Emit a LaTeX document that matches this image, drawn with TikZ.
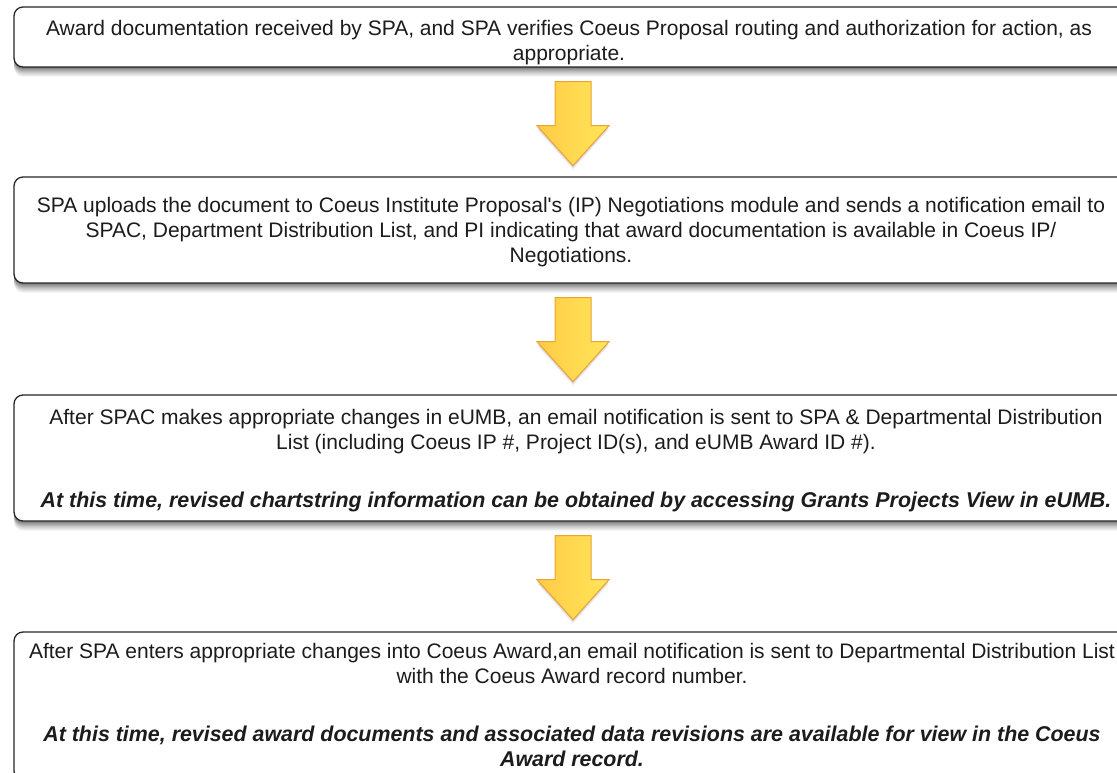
\documentclass[tikz,border=0pt]{standalone}
\usepackage{fontspec}
\newfontfamily\lsans{Liberation Sans}
\usetikzlibrary{calc}
\definecolor{boxline}{HTML}{262626}
\definecolor{txtcol}{HTML}{1C1C1C}
\definecolor{arrL}{HTML}{FFCB45}
\definecolor{arrM}{HTML}{FFE27C}
\definecolor{arrR}{HTML}{FFE65A}
\definecolor{arrB}{HTML}{EFA233}
\newcommand\bolditline[1]{{\fontsize{21.4}{25}\selectfont\bfseries\itshape #1}}
\tikzset{
  shl/.style 2 args={preaction={fill=black,fill opacity=#1,transform canvas={yshift=-#2}}},
  softshadow/.style={shl={0.11}{1pt},shl={0.10}{2pt},shl={0.09}{3pt},shl={0.08}{4pt},
                     shl={0.07}{5pt},shl={0.06}{6pt},shl={0.05}{7pt},shl={0.05}{8pt},shl={0.04}{9pt},shl={0.03}{10pt}},
  smallshadow/.style={shl={0.05}{1pt},shl={0.05}{2pt},shl={0.05}{3pt},shl={0.04}{4pt}},
  flowbox/.style={softshadow, draw=boxline, line width=1.3pt, fill=white,
                  rounded corners=9pt, inner sep=0pt, minimum width=1114pt},
  txt/.style={inner sep=0pt, align=center, anchor=north, text=txtcol,
              font=\lsans\fontsize{21.0}{25}\selectfont},
  yarrow/.style={smallshadow, draw=arrB, line width=1pt, line join=miter,
                 left color=arrL, middle color=arrM, right color=arrR}
}
\newcommand\flowarrow[1]{%
  \draw[yarrow] ([xshift=-16pt,yshift=-14pt]#1.south) -- ++(36,0) -- ++(0,44)
    -- ++(18,0) -- ++(-36,40) -- ++(-36,-40) -- ++(18,0) -- cycle;}
\begin{document}
\begin{tikzpicture}[x=1pt,y=-1pt]
\useasboundingbox (0,0) rectangle (1117,773);
\clip (0,0) rectangle (1117,773);
\fill[white] (0,0) rectangle (1117,773);

% boxes
\node[flowbox, minimum height=60pt]  (b1) at (571,37)  {};
\node[flowbox, minimum height=106pt] (b2) at (571,230) {};
\node[flowbox, minimum height=126pt] (b3) at (571,458) {};
\node[flowbox, minimum height=148pt] (b4) at (571,706) {};

% texts
\node[txt] (t1) at (569,17.5) {\strut Award documentation received by SPA, and SPA verifies Coeus Proposal routing and authorization for action, as\\appropriate.};
\node[txt] (t2) at (571,194.5) {\strut SPA uploads the document to Coeus Institute Proposal's (IP) Negotiations module and sends a notification email to\\SPAC, Department Distribution List, and PI indicating that award documentation is available in Coeus IP/\\Negotiations.};
\node[txt] (t3) at (576,406.5) {\strut After SPAC makes appropriate changes in eUMB, an email notification is sent to SPA \& Departmental Distribution\\List (including Coeus IP \#, Project ID(s), and eUMB Award ID \#).\\[33pt]\bolditline{At this time, revised chartstring information can be obtained by accessing Grants Projects View in eUMB.}};
\node[txt] (t4) at (572,640.5) {\strut After SPA enters appropriate changes into Coeus Award,an email notification is sent to Departmental Distribution List\\with the Coeus Award record number.\\[33pt]\bolditline{At this time, revised award documents and associated data revisions are available for view in the Coeus}\\\bolditline{Award record.}};

% arrows between boxes
\flowarrow{b1}
\flowarrow{b2}
\flowarrow{b3}
\end{tikzpicture}
\end{document}
